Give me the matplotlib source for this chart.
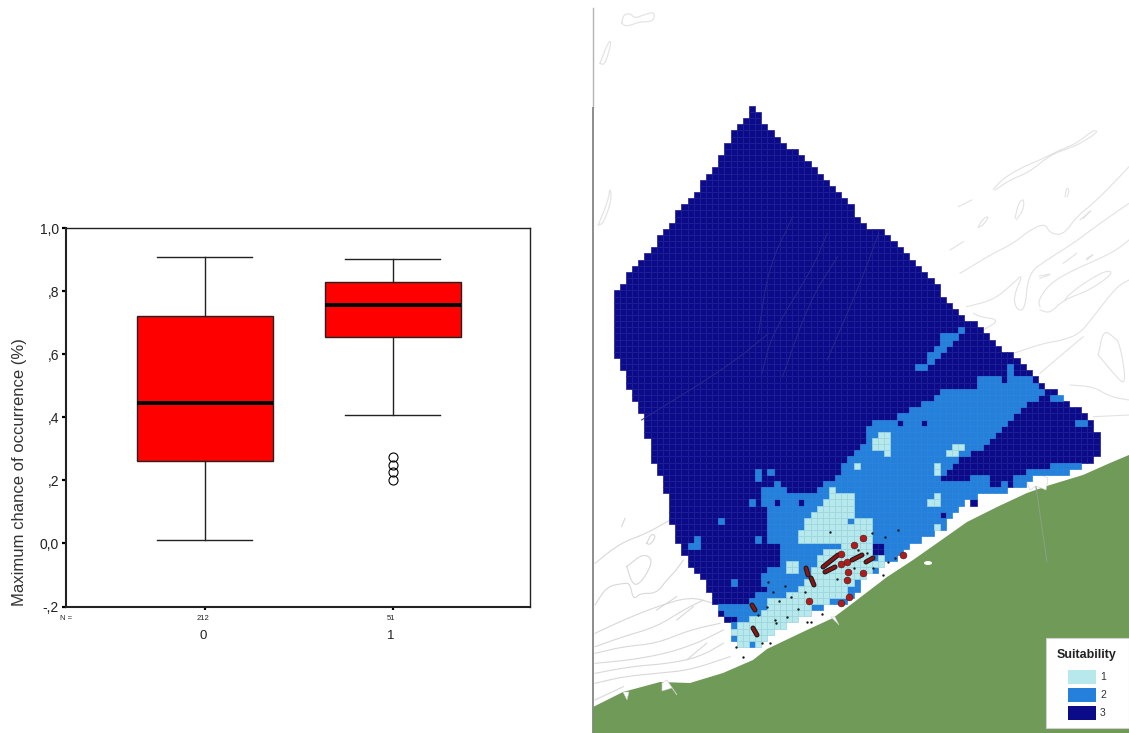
#!/usr/bin/env python3
# -*- coding: utf-8 -*-
"""Box plot of chance of occurrence next to the habitat suitability map."""

import numpy as np
import matplotlib
matplotlib.use('Agg')
import matplotlib.pyplot as plt
from matplotlib.collections import PolyCollection
from matplotlib.patches import Polygon, Rectangle, Ellipse
from matplotlib.path import Path

plt.rcParams['font.family'] = ['Liberation Sans', 'DejaVu Sans']

# box plot values
groups = ['0', '1']
group_n = ['212', '51']
box_low = [0.01, 0.407]
box_q1 = [0.26, 0.655]
box_med = [0.445, 0.757]
box_q3 = [0.72, 0.828]
box_high = [0.907, 0.903]
outliers = [[], [0.273, 0.248, 0.225, 0.2]]
y_ticks = [-0.2, 0.0, 0.2, 0.4, 0.6, 0.8, 1.0]
y_tick_labels = ['-,2', '0,0', ',2', ',4', ',6', ',8', '1,0']

# map outlines, in pixels of the map sheet
study_area = [(752, 108), (731, 137), (718, 162), (699, 187), (674, 218), (655, 243), (642, 262),
              (624, 280), (616, 293), (616, 355), (624, 374), (630, 393), (642, 412), (650, 450),
              (668, 500), (668, 512), (675, 530), (681, 548), (687, 555), (693, 573), (705, 580),
              (712, 603), (718, 610), (725, 623), (730, 625), (732, 635), (738, 649), (757, 649),
              (775, 632), (800, 619), (823, 607), (850, 598), (867, 576), (887, 564), (913, 544),
              (943, 528), (950, 514), (980, 494), (1000, 492), (1025, 486), (1033, 474), (1068, 474),
              (1088, 461), (1101, 454), (1101, 443), (1093, 425), (1087, 412), (1063, 400),
              (1037, 377), (1013, 357), (965, 317), (930, 280), (882, 231), (868, 230), (849, 203),
              (812, 163), (782, 142)]
medium_band = [(927, 400), (950, 387), (975, 387), (982, 375), (993, 375), (1005, 380), (1005, 362),
               (1012, 362), (1015, 375), (1033, 377), (1043, 392), (1110, 400), (1110, 560), (730, 665),
               (725, 618), (720, 607), (750, 600), (757, 593), (767, 570), (780, 563), (780, 540),
               (768, 547), (767, 517), (768, 510), (763, 500), (763, 487), (780, 483), (787, 492),
               (812, 497), (817, 487), (837, 477), (843, 463), (857, 450), (867, 445), (863, 430),
               (873, 418), (897, 417), (907, 413)]
medium_stripe = [(899, 373), (925, 362), (934, 350), (944, 332), (963, 330), (951, 343), (937, 360), (917, 373)]
deep_stripe = [(925, 478), (925, 484), (937, 484), (990, 475), (993, 490), (1000, 490), (1000, 482),
               (1007, 482), (1007, 485), (1015, 485), (1015, 475), (1025, 475), (1025, 468), (1083, 462),
               (1105, 455), (1105, 438), (1085, 410), (1040, 395), (1030, 403), (1020, 412), (1013, 418),
               (1000, 432), (993, 440), (963, 457), (950, 467), (940, 478)]
shallow_main = [(833, 487), (837, 493), (848, 493), (855, 500), (850, 507), (857, 517), (873, 517),
                (873, 533), (870, 540), (860, 545), (873, 545), (885, 553), (887, 567), (873, 570),
                (850, 585), (847, 597), (823, 603), (810, 613), (783, 627), (755, 648), (737, 647),
                (730, 627), (758, 617), (770, 600), (800, 590), (815, 565), (822, 553),
                (823, 540), (800, 540), (800, 530), (807, 520), (817, 507), (828, 500), (830, 490)]
shallow_islands = [[(875, 437), (893, 430), (893, 443), (887, 455), (875, 448)],
                   [(947, 450), (963, 443), (963, 450), (950, 460)],
                   [(932, 462), (938, 462), (938, 473), (932, 473)],
                   [(927, 498), (938, 494), (938, 505), (927, 505)],
                   [(932, 525), (938, 525), (938, 535), (932, 535)],
                   [(788, 562), (798, 562), (798, 573), (788, 573)]]
medium_cells = [(758, 470), (758, 476), (771, 471), (720, 520), (758, 539), (733, 583), (752, 500),
                (696, 538), (690, 545), (696, 545), (1078, 420), (1084, 420), (825, 546), (831, 546),
                (837, 546), (815, 607), (752, 645), (830, 601), (836, 601), (842, 601), (855, 585),
                (875, 560), (848, 520)]
deep_cells = [(777, 505), (972, 502), (940, 513), (922, 421), (897, 420), (877, 545), (883, 545),
              (877, 551), (883, 551), (765, 588), (800, 503), (730, 620), (736, 620), (726, 620)]
shallow_cells = [(859, 464)]

# sightings
red_x = [863, 854, 848, 863, 847, 809, 841, 849, 903, 841, 847, 841]
red_y = [538, 545, 572, 573, 580, 601, 603, 597, 555, 564, 562, 554]
track_starts = [(823, 567), (825, 572), (852, 560), (866, 562), (806, 568), (811, 578), (752, 605), (753, 628)]
track_ends = [(838, 555), (835, 567), (862, 555), (873, 558), (808, 575), (814, 585), (755, 610), (757, 635)]
dot_x = [830, 872, 898, 885, 768, 785, 773, 791, 779, 798, 805, 767, 787, 758, 736, 743, 762, 770,
         807, 811, 822, 883, 888, 895, 873, 854, 837, 858, 867, 775, 776]
dot_y = [532, 533, 530, 537, 582, 586, 592, 597, 601, 609, 592, 607, 617, 615, 647, 657, 643, 643,
         622, 622, 614, 575, 562, 558, 568, 568, 579, 550, 553, 620, 623]

contours_east = [[(130, 238), (160, 205), (220, 170), (270, 150), (330, 120), (380, 100), (430, 60), (445, 65),
                  (400, 95), (370, 110), (300, 135), (240, 185), (180, 210), (135, 240)],
                 [(30, 490), (80, 460), (130, 430), (190, 400), (240, 360), (285, 340), (300, 370), (340, 375),
                  (380, 320), (430, 280), (490, 220), (537, 170)],
                 [(0, 420), (40, 395)],
                 [(85, 350), (100, 325), (118, 318), (100, 345), (85, 352)],
                 [(195, 325), (205, 280), (222, 265), (220, 300), (200, 328)],
                 [(345, 260), (350, 232), (358, 240), (352, 260)],
                 [(50, 590), (130, 570), (190, 520), (220, 490), (190, 560), (200, 600), (225, 600), (235, 490),
                  (290, 450), (370, 400), (450, 340), (537, 280)],
                 [(270, 590), (265, 570), (300, 520), (370, 480), (440, 450), (500, 420), (537, 390)],
                 [(270, 600), (300, 610), (340, 570), (420, 540), (490, 490), (470, 480), (400, 520), (350, 560),
                  (345, 570)],
                 [(100, 660), (150, 630), (90, 620), (70, 610)],
                 [(190, 730), (280, 700), (340, 690), (390, 670), (430, 620), (500, 530), (537, 510)],
                 [(270, 790), (340, 730), (400, 680)],
                 [(445, 735), (460, 660), (490, 680), (510, 700), (530, 830), (490, 790), (445, 735)],
                 [(360, 825), (430, 830), (480, 860), (537, 870)],
                 [(430, 920), (537, 915)],
                 [(268, 498), (310, 490), (270, 505)],
                 [(410, 450), (435, 430), (410, 445)],
                 [(390, 330), (430, 295), (400, 325)],
                 [(25, 290), (65, 270)],
                 [(340, 460), (380, 430)]]
contours_west = [[(15, 190), (90, 130), (170, 100), (240, 60)],
                 [(15, 315), (50, 260), (100, 250), (120, 250), (130, 300), (150, 280), (200, 280), (230, 240),
                  (255, 215), (280, 180)],
                 [(110, 200), (160, 160), (190, 180), (160, 240), (130, 260), (110, 200)],
                 [(170, 130), (185, 100), (198, 110), (180, 135), (170, 130)],
                 [(15, 400), (100, 360), (200, 320), (300, 290), (370, 310)],
                 [(15, 440), (100, 410), (200, 380), (280, 330), (340, 300)],
                 [(15, 460), (100, 440), (200, 430), (300, 390), (390, 370)],
                 [(15, 490), (120, 480), (230, 460), (320, 430), (400, 390)],
                 [(15, 520), (120, 500), (240, 490), (330, 470), (400, 430)],
                 [(15, 550), (100, 530), (200, 520), (300, 510), (420, 470)],
                 [(200, 330), (260, 290)],
                 [(260, 360), (310, 320)],
                 [(290, 480), (350, 430)],
                 [(15, 600), (100, 560)],
                 [(95, 80), (105, 55)]]
contours_north = [[(95, 70), (100, 45), (120, 40), (135, 55), (160, 45), (195, 35), (190, 65), (150, 65),
                   (110, 80), (95, 70)],
                  [(30, 190), (55, 125), (65, 125), (45, 195), (30, 190)],
                  [(25, 675), (55, 600), (60, 560), (65, 600), (40, 670), (25, 675)]]
contours_deep = [[(490, 700), (520, 500), (590, 350)],
                 [(500, 820), (530, 700), (650, 500), (690, 400)],
                 [(560, 830), (640, 600), (720, 470)],
                 [(690, 780), (790, 540), (840, 400)],
                 [(150, 960), (400, 800), (520, 700)]]

coast = [(593, 707), (623, 692), (660, 682), (690, 683), (723, 673), (753, 660), (767, 649), (807, 630),
         (833, 618), (853, 603), (887, 577), (913, 560), (933, 546), (967, 522), (997, 507), (1027, 493),
         (1050, 485), (1083, 475), (1110, 463), (1129, 455), (1129, 733), (593, 733)]
coast_white = [[(623, 692), (627, 700), (629, 692)],
               [(662, 683), (667, 680), (677, 695), (672, 688), (662, 691)],
               [(831, 617), (839, 625), (835, 617)],
               [(1025, 477), (1035, 472), (1048, 478), (1046, 490), (1036, 486), (1030, 490)]]

legend_labels = ['1', '2', '3']
class_colors = {1: '#b6e8ec', 2: '#2480da', 3: '#0b0b8a'}
class_edges = {1: '#9ad4de', 2: '#2682da', 3: '#1c1c94'}

cell = 6.15
grid_x0 = 749.0
grid_y0 = 112.0

fig = plt.figure(figsize=(11.29, 7.33), dpi=100)
W, H = 1129.0, 733.0


def crop_to_sheet(pts, x0, y0, sx=3.0, sy=3.0):
    # corner cutting, so the contours look drawn instead of straight segments
    pts = np.array(pts, dtype=float)
    for _ in range(2):
        a, b = pts[:-1], pts[1:]
        mid = np.empty((2 * len(a), 2))
        mid[0::2] = 0.75 * a + 0.25 * b
        mid[1::2] = 0.25 * a + 0.75 * b
        pts = np.vstack([pts[:1], mid, pts[-1:]])
    return np.column_stack([pts[:, 0] / sx + x0, pts[:, 1] / sy + y0])


# ---- left panel: box plot
ax = fig.add_axes([66 / W, 1 - 606.5 / H, (530 - 66) / W, (606.5 - 228) / H])
stats = []
for i in range(len(groups)):
    stats.append({'whislo': box_low[i], 'q1': box_q1[i], 'med': box_med[i], 'q3': box_q3[i],
                  'whishi': box_high[i], 'fliers': outliers[i]})
ax.bxp(stats, positions=[0, 1], widths=0.723, patch_artist=True, manage_ticks=False,
       boxprops=dict(facecolor='#ff0000', edgecolor='#222222', linewidth=1.0),
       medianprops=dict(color='black', linewidth=2.8, solid_capstyle='butt'),
       whiskerprops=dict(color='#222222', linewidth=1.0),
       capprops=dict(color='#222222', linewidth=1.0), capwidths=0.505,
       flierprops=dict(marker='o', markerfacecolor='none', markeredgecolor='black',
                       markersize=6.5, markeredgewidth=0.8))
ax.set_xlim(-0.739, 1.729)
ax.set_ylim(-0.2, 1.0)
ax.set_yticks(y_ticks)
ax.set_yticklabels(y_tick_labels, fontsize=10, color='#222222')
ax.set_xticks([0, 1])
ax.set_xticklabels([])
ax.tick_params(axis='y', length=3, width=1.6, pad=2)
ax.tick_params(axis='x', length=2, width=1.6)
for s in ax.spines.values():
    s.set_linewidth(1.0)
    s.set_color('#222222')
ax.spines['left'].set_linewidth(1.5)
ax.spines['bottom'].set_linewidth(1.5)

fig.text(20 / W, 1 - 472 / H, 'Maximum chance of occurrence (%)', rotation=90, fontsize=12,
         color='#333333', ha='center', va='center')
fig.text(60 / W, 1 - 619 / H, 'N =', fontsize=5.5, ha='left', va='center', color='#222222')
for i, x in enumerate([203, 391]):
    fig.text(x / W, 1 - 619 / H, group_n[i], fontsize=5.5, ha='center', va='center', color='#222222')
    fig.text(x / W, 1 - 636 / H, groups[i], fontsize=9.5, ha='center', va='center', color='#222222')

# ---- right panel: map, drawn on the whole sheet in pixel coordinates
mp = fig.add_axes([0, 0, 1, 1], facecolor='none')
mp.set_xlim(0, W)
mp.set_ylim(H, 0)
mp.axis('off')

mp.plot([593, 593], [8, 108], color='#b4b4b4', lw=1.0)
mp.plot([593, 593], [108, 733], color='#8c8c8c', lw=1.4)

for c in contours_east:
    p = crop_to_sheet(c, 950, 110)
    mp.plot(p[:, 0], p[:, 1], color='#e2e2e2', lw=0.8)
for c in contours_west:
    p = crop_to_sheet(c, 590, 500)
    mp.plot(p[:, 0], p[:, 1], color='#d8d8d8', lw=0.8)
for c in contours_north:
    p = crop_to_sheet(c, 590, 0)
    mp.plot(p[:, 0], p[:, 1], color='#e4e4e4', lw=0.9)

mp.add_patch(Polygon(coast, closed=True, facecolor='#6f9a58', edgecolor='none', zorder=2))
for c in coast_white:
    mp.add_patch(Polygon(c, closed=True, facecolor='white', edgecolor='#cccccc', lw=0.4, zorder=3))
mp.plot([1036, 1047], [487, 562], color='#8a9f80', lw=0.8, zorder=3)
mp.add_patch(Ellipse((928, 563), 8, 4, facecolor='white', edgecolor='none', zorder=3))

# snap the outlines onto the raster grid
nx = int((1110 - 610) / cell) + 2
ny = int((660 - 100) / cell) + 2
ix0 = int(np.floor((610 - grid_x0) / cell))
iy0 = int(np.floor((100 - grid_y0) / cell))
xe = grid_x0 + (ix0 + np.arange(nx + 1)) * cell
ye = grid_y0 + (iy0 + np.arange(ny + 1)) * cell
xc, yc = np.meshgrid((xe[:-1] + xe[1:]) / 2, (ye[:-1] + ye[1:]) / 2)
centres = np.column_stack([xc.ravel(), yc.ravel()])


def inside(poly):
    return Path(poly).contains_points(centres).reshape(xc.shape)


def mark_cells(classes, cells, value):
    for x, y in cells:
        j = int((x - xe[0]) / cell)
        i = int((y - ye[0]) / cell)
        classes[i, j] = value


classes = np.zeros(xc.shape, dtype=int)
classes[inside(study_area)] = 3
area = classes > 0
classes[inside(medium_band) & area] = 2
classes[inside(medium_stripe) & area] = 2
classes[inside(deep_stripe) & area] = 3
classes[inside(shallow_main) & area] = 1
for poly in shallow_islands:
    classes[inside(poly) & area] = 1
mark_cells(classes, medium_cells, 2)
mark_cells(classes, deep_cells, 3)
mark_cells(classes, shallow_cells, 1)

for k in [3, 2, 1]:
    rows, cols = np.where(classes == k)
    squares = [[(xe[j], ye[i]), (xe[j + 1], ye[i]), (xe[j + 1], ye[i + 1]), (xe[j], ye[i + 1])]
               for i, j in zip(rows, cols)]
    mp.add_collection(PolyCollection(squares, facecolors=class_colors[k], edgecolors=class_edges[k],
                                     linewidths=0.5, zorder=4))

for c in contours_deep:
    p = crop_to_sheet(c, 590, 100, sx=2.909)
    mp.plot(p[:, 0], p[:, 1], color='#28288f', lw=0.7, zorder=5)

mp.scatter(dot_x, dot_y, s=3, color='#1a1a1a', zorder=6, linewidths=0)
for a, b in zip(track_starts, track_ends):
    mp.plot([a[0], b[0]], [a[1], b[1]], color='#1e1a1a', lw=3.6, solid_capstyle='round', zorder=6)
    mp.plot([a[0], b[0]], [a[1], b[1]], color='#8c1414', lw=2.0, solid_capstyle='round', zorder=7)
mp.scatter(red_x, red_y, s=24, color='#b01c1c', edgecolors='#3a1a1a', linewidths=0.4, zorder=7)

# legend
mp.add_patch(Rectangle((1046, 638), 83, 90, facecolor='white', edgecolor='#d0d0d0', lw=0.8, zorder=8))
mp.text(1087, 655, 'Suitability', fontsize=9, fontweight='bold', ha='center', va='center', color='#222222', zorder=9)
for lab, k, y in zip(legend_labels, [1, 2, 3], [670, 688, 706]):
    mp.add_patch(Rectangle((1068, y), 28, 13.5, facecolor=class_colors[k], edgecolor='none', zorder=9))
    mp.text(1103, y + 7, lab, fontsize=7.5, ha='center', va='center', color='#333333', zorder=9)

plt.savefig('out.png', dpi=100)
